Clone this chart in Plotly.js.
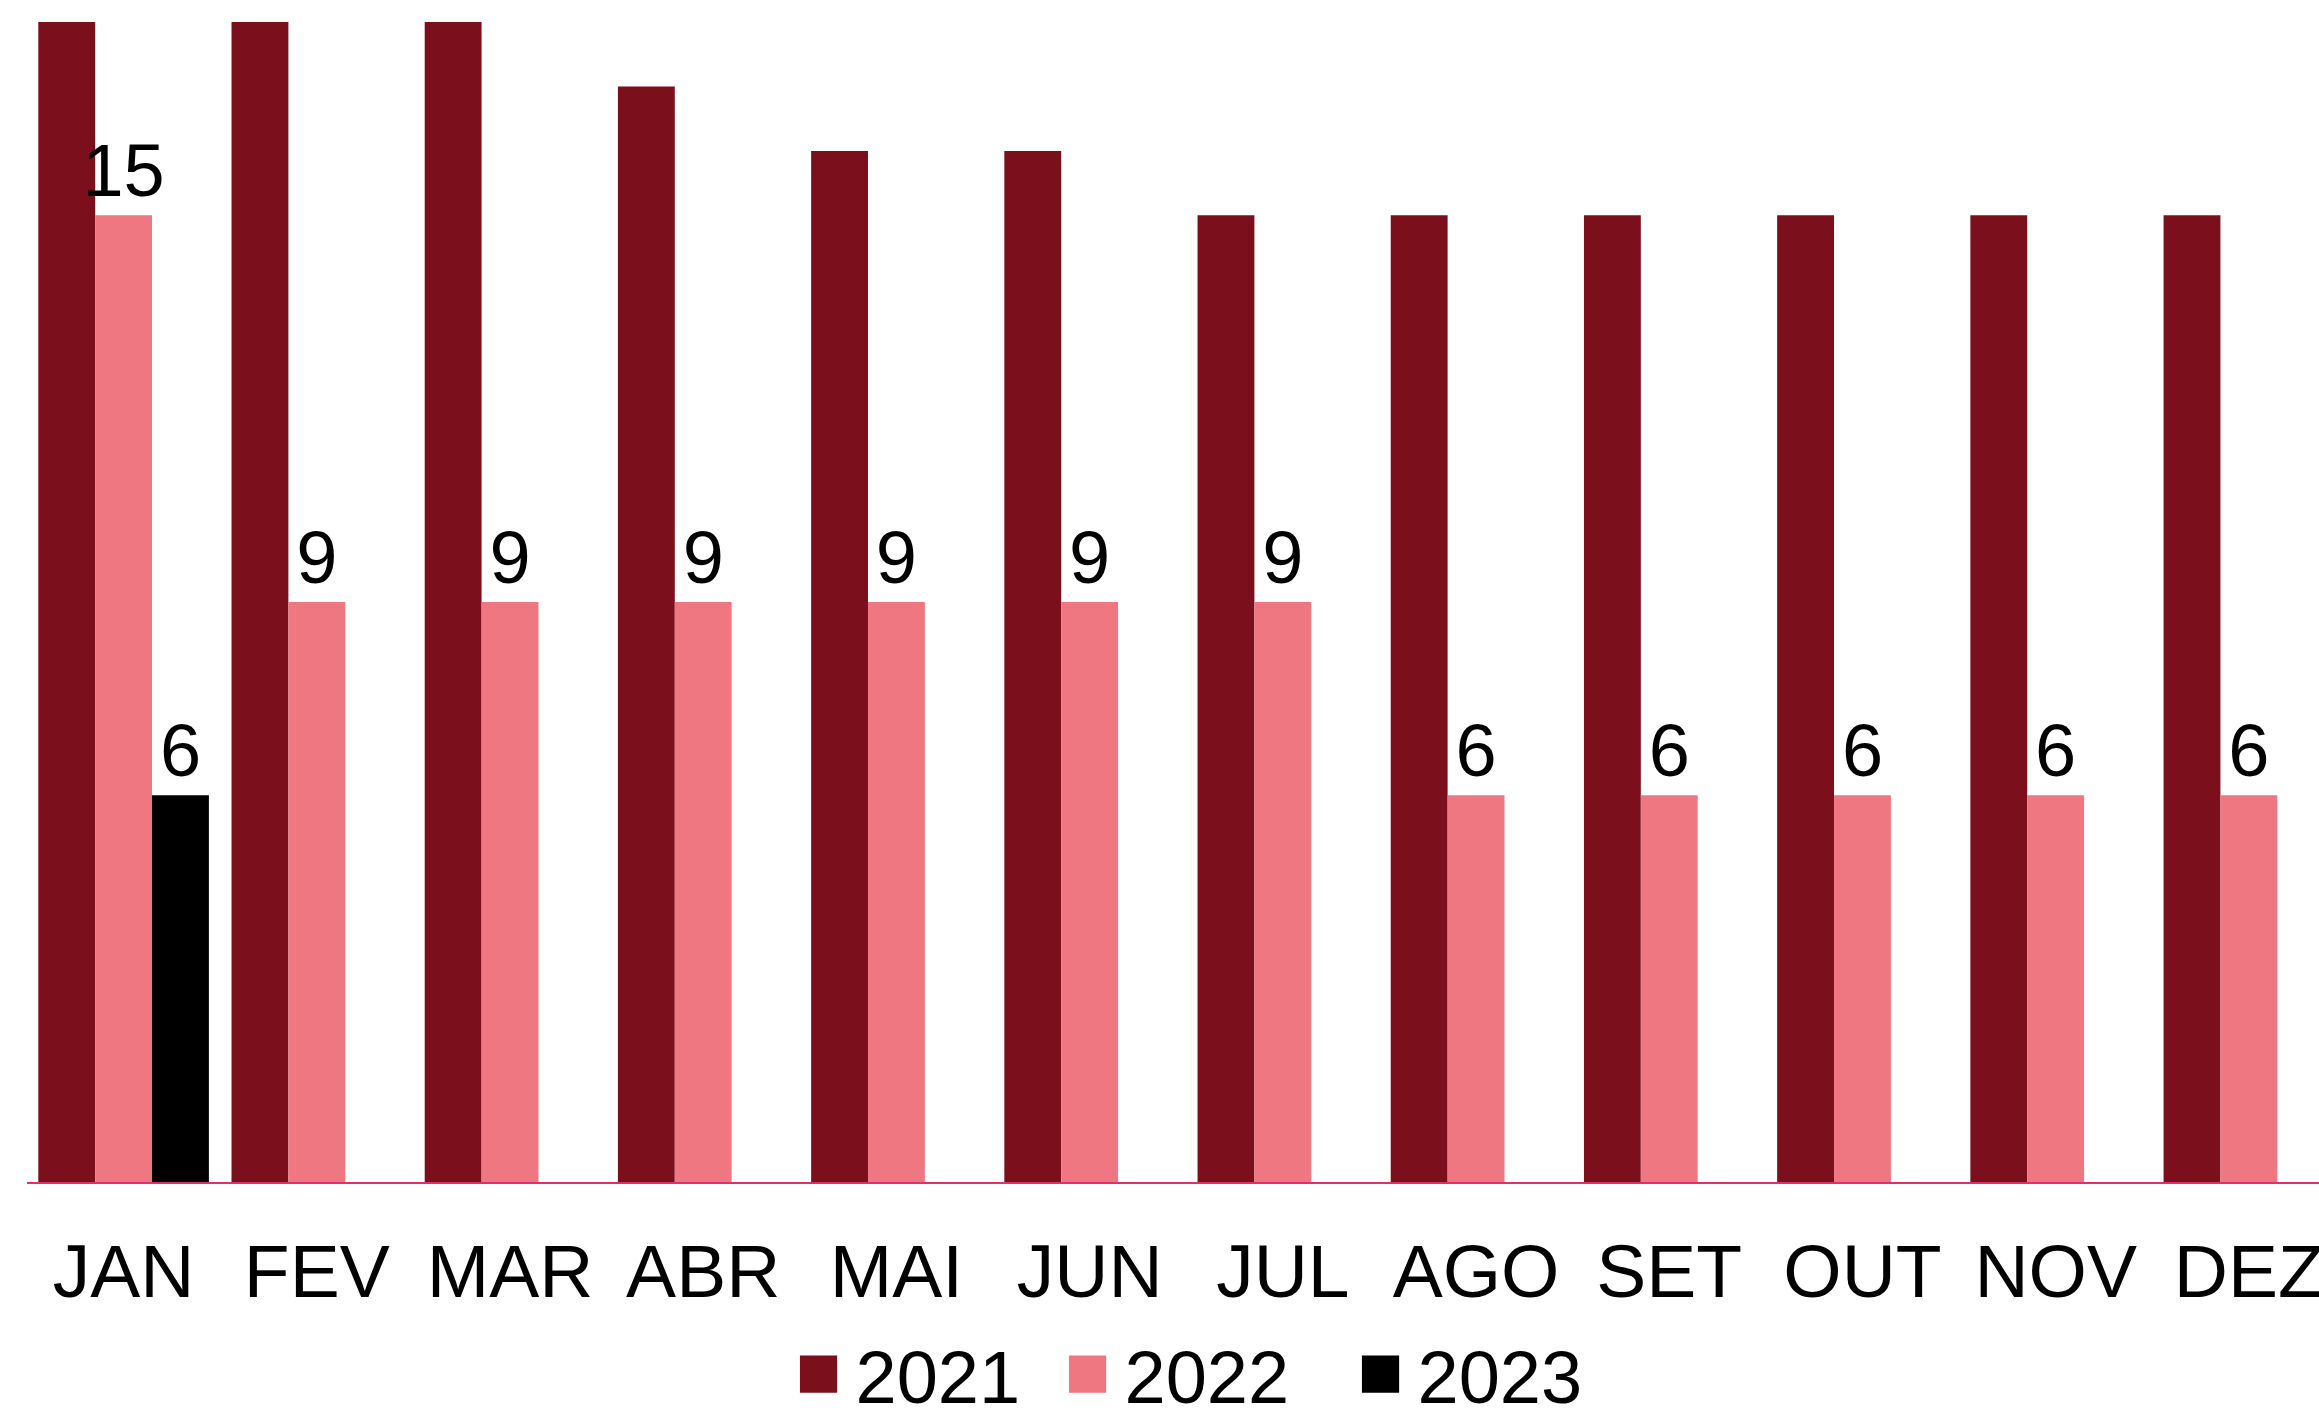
<!DOCTYPE html>
<html>
<head>
<meta charset="utf-8">
<script src="https://cdn.plot.ly/plotly-3.0.1.min.js"></script>
<style>html,body{margin:0;padding:0;overflow:hidden;background:#fff}</style>
</head>
<body>
<div id="chart" style="width:2319px;height:1408px"></div>
<script>
const months = ["JAN","FEV","MAR","ABR","MAI","JUN","JUL","AGO","SET","OUT","NOV","DEZ"];
const values2021 = [18,18,18,17,16,16,15,15,15,15,15,15];
const values2022 = [15,9,9,9,9,9,9,6,6,6,6,6];
const values2023 = [6,null,null,null,null,null,null,null,null,null,null,null];

const FONT = "Liberation Sans, Arial, sans-serif";
const traces = [
  {type:"bar", name:"2021", x:months, y:values2021, marker:{color:"#7C0F1C"}, hoverinfo:"skip",
   legendwidth:190},
  {type:"bar", name:"2022", x:months, y:values2022, marker:{color:"#EF7782"},
   text:values2022.map(String), textposition:"outside", constraintext:"none",
   textfont:{family:FONT, size:74, color:"#000"}, legendwidth:214},
  {type:"bar", name:"2023", x:months, y:values2023, marker:{color:"#000000"},
   text:values2023.map(v => v == null ? "" : String(v)), textposition:"outside", constraintext:"none",
   textfont:{family:FONT, size:74, color:"#000"}}
];

const layout = {
  width:2319, height:1408,
  margin:{l:27, r:0, t:22, b:226, autoexpand:false},
  paper_bgcolor:"#fff", plot_bgcolor:"#fff",
  barmode:"group", bargap:0.117, bargroupgap:0,
  font:{family:FONT, color:"#000"},
  xaxis:{range:[-0.5, 11.363], showgrid:false, zeroline:false, showline:true,
         linecolor:"#E0306A", linewidth:2, ticks:"", tickfont:{family:FONT, size:75, color:"#000"},
         ticklabelstandoff:23, fixedrange:true},
  yaxis:{range:[0,18], showgrid:false, zeroline:false, showline:false, showticklabels:false, ticks:"", fixedrange:true},
  showlegend:true,
  legend:{orientation:"h", x:0.3292, xanchor:"left", y:-0.166, yanchor:"middle",
          font:{family:FONT, size:74, color:"#000"}, itemwidth:64, traceorder:"normal",
          bgcolor:"rgba(0,0,0,0)"}
};

Plotly.newPlot("chart", traces, layout, {staticPlot:true, displayModeBar:false}).then(() => {
  document.querySelectorAll(".legend .legendpoints path").forEach(p => {
    const t = p.getAttribute("transform") || "";
    p.setAttribute("transform", t + " scale(3.1)");
  });
});
</script>
</body>
</html>
